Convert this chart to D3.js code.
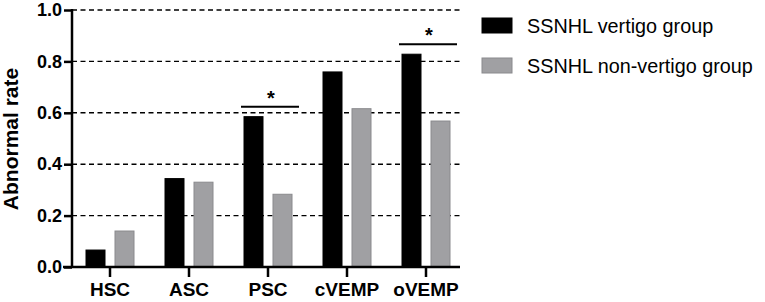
<!DOCTYPE html>
<html>
<head>
<meta charset="utf-8">
<script src="https://cdn.jsdelivr.net/npm/d3@7"></script>
<style>
  body { margin: 0; background: #fff; }
  svg { display: block; font-family: "Liberation Sans", Arial, sans-serif; }
</style>
</head>
<body>
<svg id="chart"></svg>
<script>
// data
var categories = ["HSC", "ASC", "PSC", "cVEMP", "oVEMP"];
var vertigo = [0.066, 0.344, 0.585, 0.759, 0.828];
var nonVertigo = [0.14, 0.33, 0.283, 0.616, 0.568];
var seriesNames = ["SSNHL vertigo group", "SSNHL non-vertigo group"];
var yTicks = [0.0, 0.2, 0.4, 0.6, 0.8, 1.0];
var significant = ["PSC", "oVEMP"];

var width = 765, height = 302;
var mLeft = 72, mRight = 460, mTop = 10, mBottom = 267;

var svg = d3.select("#chart")
  .attr("width", width)
  .attr("height", height);

var x = d3.scaleBand()
  .domain(categories)
  .range([70.5, 465.5]);

var y = d3.scaleLinear()
  .domain([0, 1])
  .range([mBottom, mTop]);

var barW = 19;
var offset = 14.5;

// dashed gridlines
svg.append("g")
  .selectAll("line")
  .data(yTicks.filter(function(d){ return d > 0; }))
  .enter()
  .append("line")
  .attr("x1", mLeft)
  .attr("x2", mRight)
  .attr("y1", function(d){ return y(d); })
  .attr("y2", function(d){ return y(d); })
  .attr("stroke", "#000")
  .attr("stroke-width", 1.4)
  .attr("stroke-dasharray", "5,3.5");

// bars
var groups = [vertigo, nonVertigo];
var fills = ["#000000", "#a0a0a3"];
var strokes = ["#000000", "#8a8a8d"];

groups.forEach(function(vals, s){
  svg.append("g")
    .selectAll("rect")
    .data(vals)
    .enter()
    .append("rect")
    .attr("x", function(d, i){ return x(categories[i]) + x.bandwidth()/2 + (s == 0 ? -offset : offset) - barW/2; })
    .attr("y", function(d){ return y(d); })
    .attr("width", barW)
    .attr("height", function(d){ return y(0) - y(d); })
    .attr("fill", fills[s])
    .attr("stroke", strokes[s])
    .attr("stroke-width", 1);
});

// y axis
var yAxis = svg.append("g")
  .attr("transform", "translate(" + mLeft + ",0)")
  .call(d3.axisLeft(y).tickValues(yTicks).tickFormat(d3.format(".1f")).tickSize(8).tickPadding(2));
yAxis.select(".domain").attr("stroke-width", 2.5).attr("d", "M0," + (mTop - 1) + "V" + (mBottom + 1));
yAxis.selectAll(".tick line").attr("stroke-width", 2.5);
yAxis.selectAll("text")
  .attr("fill", "#000")
  .style("font-size", "18px")
  .style("font-weight", "bold");

// x axis
var xAxis = svg.append("g")
  .attr("transform", "translate(0," + mBottom + ")")
  .call(d3.axisBottom(x).tickSize(10).tickPadding(6));
xAxis.select(".domain").attr("stroke-width", 2.5).attr("d", "M" + (mLeft - 9) + ",0H" + mRight);
xAxis.selectAll(".tick line").attr("stroke-width", 2.5);
xAxis.selectAll("text")
  .attr("fill", "#000")
  .style("font-size", "19px")
  .style("font-weight", "bold");

// axis title
svg.append("text")
  .attr("transform", "translate(18,139) rotate(-90)")
  .attr("text-anchor", "middle")
  .style("font-size", "21px")
  .style("font-weight", "bold")
  .text("Abnormal rate");

// significance markers
significant.forEach(function(c){
  var i = categories.indexOf(c);
  var cx = x(c) + x.bandwidth()/2;
  var top1 = Math.max(vertigo[i], nonVertigo[i]);
  var ly = y(top1) - 10;
  svg.append("line")
    .attr("x1", cx - 27)
    .attr("x2", cx + 31)
    .attr("y1", ly)
    .attr("y2", ly)
    .attr("stroke", "#000")
    .attr("stroke-width", 2);
  svg.append("text")
    .attr("x", cx + 3)
    .attr("y", ly - 2)
    .attr("text-anchor", "middle")
    .style("font-size", "20px")
    .style("font-weight", "bold")
    .text("*");
});

// legend
var legend = svg.append("g");
seriesNames.forEach(function(n, i){
  legend.append("rect")
    .attr("x", 482)
    .attr("y", 18 + i * 40)
    .attr("width", 30)
    .attr("height", 15)
    .attr("fill", fills[i])
    .attr("stroke", strokes[i]);
  legend.append("text")
    .attr("x", 527)
    .attr("y", 26 + i * 40)
    .attr("dy", "0.35em")
    .style("font-size", "19.8px")
    .text(n);
});
</script>
</body>
</html>
